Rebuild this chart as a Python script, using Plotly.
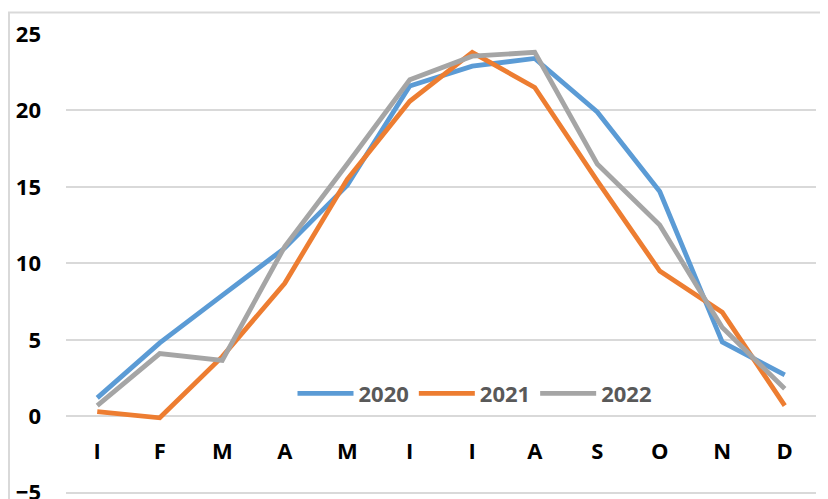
import plotly.graph_objects as go

months = ["I", "F", "M", "A", "M", "I", "I", "A", "S", "O", "N", "D"]
series_names = ["2020", "2021", "2022"]
values_2020 = [1.2, 4.8, 7.9, 11.0, 15.1, 21.6, 22.9, 23.4, 19.9, 14.7, 4.85, 2.7]
values_2021 = [0.3, -0.1, 3.9, 8.7, 15.5, 20.6, 23.8, 21.5, 15.4, 9.5, 6.8, 0.7]
values_2022 = [0.7, 4.1, 3.65, 11.1, 16.5, 22.0, 23.55, 23.8, 16.5, 12.5, 5.8, 1.8]
y_ticks = [-5, 0, 5, 10, 15, 20, 25]

colors = ["#5B9BD5", "#ED7D31", "#A5A5A5"]
FONT = "Open Sans"

x = list(range(len(months)))

fig = go.Figure()
for name, vals, col in zip(series_names, [values_2020, values_2021, values_2022], colors):
    fig.add_trace(go.Scatter(
        x=x, y=vals, name=name, mode="lines",
        line=dict(color=col, width=4.8),
    ))

# page body has an 8px margin; compensate so the plot lands where the reference has it
W, H = 828, 499
y_lo, y_hi = -5.15, 25
px_per_unit = 15.32
ml, mr, mt = 58, 20, 25.5
mb = 14 - (-5 - y_lo) * px_per_unit

fig.update_layout(
    width=W, height=H,
    margin=dict(l=ml, r=mr, t=mt, b=mb, pad=0, autoexpand=False),
    paper_bgcolor="white", plot_bgcolor="white",
    showlegend=True,
    legend=dict(
        orientation="h", x=0.302, y=0.22, xanchor="left", yanchor="middle",
        font=dict(family=FONT, size=22, color="#595959", weight="bold"),
        bgcolor="rgba(0,0,0,0)", itemwidth=56, tracegroupgap=0,
    ),
    xaxis=dict(
        range=[-0.5, len(months) - 0.5],
        tickvals=x, ticktext=months, automargin=False,
        showgrid=False, zeroline=False, showline=False, ticks="",
        anchor="free", position=(0 - y_lo) / (y_hi - y_lo),
        tickfont=dict(family=FONT, size=22, color="#000000", weight="bold"),
        ticklabelstandoff=20,
    ),
    yaxis=dict(
        range=[y_lo, y_hi], tickvals=y_ticks, automargin=False,
        showgrid=True, gridcolor="#D9D9D9", gridwidth=2,
        zeroline=False, showline=False, ticks="",
        tickfont=dict(family=FONT, size=22, color="#000000", weight="bold"),
        ticklabelstandoff=24,
    ),
)

plot_h = H - mt - mb
plot_w = W - ml - mr
fig.add_shape(
    type="rect", xref="paper", yref="paper",
    x0=(1 - ml) / plot_w, x1=1.2,
    y0=-0.2, y1=(H - mb - 4) / plot_h,
    line=dict(color="#D9D9D9", width=2), fillcolor="rgba(0,0,0,0)", layer="below",
)

fig.write_html("out.html")
